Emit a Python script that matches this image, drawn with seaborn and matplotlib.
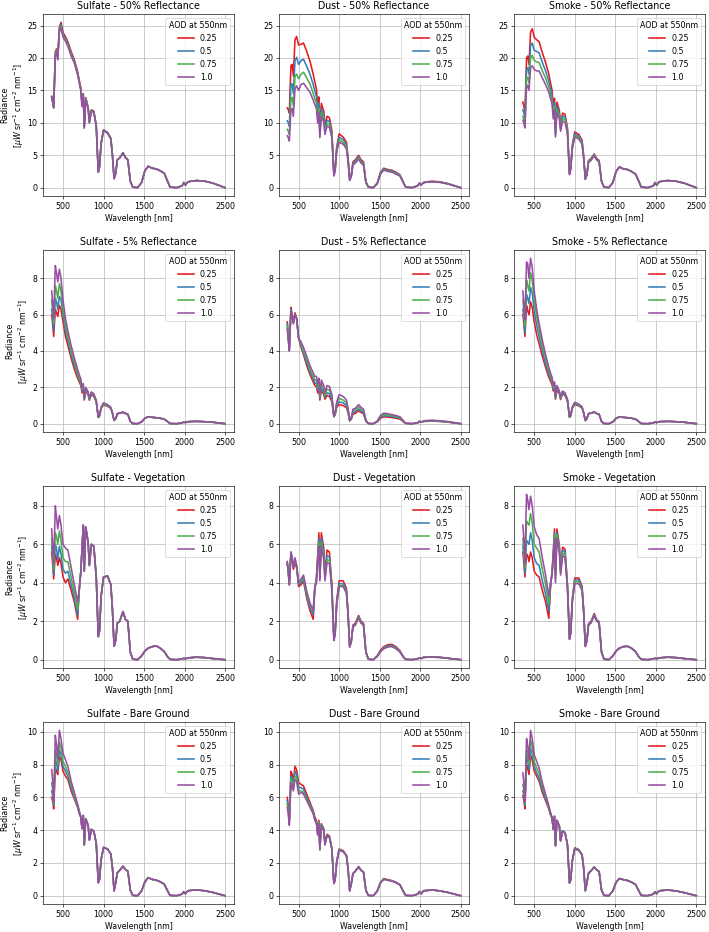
import numpy as np
import pandas as pd
import matplotlib
matplotlib.use("Agg")
import matplotlib.pyplot as plt
import seaborn as sns

# ---------------- data ----------------
wavelength = [360, 372, 385, 405, 420, 435, 455, 475, 500, 530,
              560, 600, 640, 680, 700, 720, 735, 750, 762, 780,
              810, 825, 850, 880, 910, 935, 950, 970, 1000, 1050,
              1090, 1110, 1130, 1150, 1170, 1200, 1240, 1270, 1300, 1330,
              1360, 1420, 1470, 1510, 1550, 1600, 1650, 1700, 1750, 1790,
              1820, 1900, 1970, 1990, 2010, 2040, 2080, 2150, 2250, 2350, 2500]

aod_levels = ["0.25", "0.5", "0.75", "1.0"]
aerosols = ["Sulfate", "Dust", "Smoke"]
surfaces = ["50% Reflectance", "5% Reflectance", "Vegetation", "Bare Ground"]
line_colors = ["#e41a1c", "#377eb8", "#4daf4a", "#984ea3"]

# ---- Sulfate - 50% Reflectance ----
sulfate_50r_025 = [14.1, 13.4, 12.5, 20.9, 21.4, 20.2, 24.7, 25.5, 23.9, 23.3,
                   22.5, 21.0, 19.7, 17.9, 16.6, 15.4, 12.8, 14.5, 9.4, 13.9,
                   12.4, 10.2, 12.0, 11.8, 9.6, 2.4, 3.2, 6.9, 8.9, 8.5,
                   7.6, 5.0, 1.4, 2.2, 4.3, 4.6, 5.4, 4.7, 4.3, 1.0,
                   0.1, 0.0, 0.8, 2.6, 3.3, 3.0, 2.9, 2.6, 2.2, 1.0,
                   0.1, 0.0, 0.3, 0.8, 0.4, 0.9, 1.0, 1.1, 1.0, 0.7, 0.0]
sulfate_50r_050 = [14.0, 13.3, 12.4, 20.7, 21.2, 20.0, 24.4, 25.2, 23.6, 23.0,
                   22.2, 20.7, 19.5, 17.7, 16.4, 15.2, 12.7, 14.4, 9.3, 13.8,
                   12.3, 10.1, 11.9, 11.7, 9.6, 2.4, 3.2, 6.9, 8.9, 8.5,
                   7.6, 5.0, 1.4, 2.2, 4.3, 4.6, 5.4, 4.7, 4.3, 1.0,
                   0.1, 0.0, 0.8, 2.6, 3.3, 3.0, 2.9, 2.6, 2.2, 1.0,
                   0.1, 0.0, 0.3, 0.8, 0.4, 0.9, 1.0, 1.1, 1.0, 0.7, 0.0]
sulfate_50r_075 = [14.0, 13.3, 12.3, 20.5, 21.1, 19.8, 24.2, 24.9, 23.4, 22.8,
                   22.0, 20.5, 19.3, 17.5, 16.3, 15.1, 12.6, 14.3, 9.2, 13.7,
                   12.2, 10.0, 11.8, 11.6, 9.5, 2.4, 3.2, 6.8, 8.8, 8.4,
                   7.5, 5.0, 1.4, 2.2, 4.3, 4.6, 5.3, 4.6, 4.3, 1.0,
                   0.1, 0.0, 0.8, 2.6, 3.3, 3.0, 2.9, 2.6, 2.2, 1.0,
                   0.1, 0.0, 0.3, 0.8, 0.4, 0.9, 1.0, 1.1, 1.0, 0.7, 0.0]
sulfate_50r_100 = [14.0, 13.2, 12.3, 20.3, 21.0, 19.7, 24.0, 24.7, 23.2, 22.6,
                   21.8, 20.3, 19.2, 17.4, 16.2, 15.0, 12.5, 14.2, 9.2, 13.6,
                   12.2, 10.0, 11.8, 11.6, 9.5, 2.4, 3.2, 6.8, 8.8, 8.4,
                   7.5, 5.0, 1.4, 2.2, 4.3, 4.6, 5.3, 4.6, 4.3, 1.0,
                   0.1, 0.0, 0.8, 2.6, 3.3, 3.0, 2.9, 2.6, 2.2, 1.0,
                   0.1, 0.0, 0.3, 0.8, 0.4, 0.9, 1.0, 1.1, 1.0, 0.7, 0.0]

# ---- Dust - 50% Reflectance ----
dust_50r_025 = [12.3, 12.0, 11.5, 18.8, 19.0, 17.2, 22.8, 23.3, 22.0, 22.1,
                22.3, 21.0, 19.5, 17.5, 16.3, 15.2, 12.5, 14.0, 9.0, 13.0,
                11.8, 9.5, 11.0, 10.8, 8.8, 2.2, 3.0, 6.3, 8.3, 7.8,
                7.0, 4.6, 1.3, 2.0, 4.0, 4.3, 5.0, 4.3, 4.0, 0.9,
                0.1, 0.0, 0.7, 2.4, 3.0, 2.8, 2.7, 2.4, 2.0, 0.9,
                0.1, 0.0, 0.3, 0.7, 0.4, 0.8, 0.9, 1.0, 0.9, 0.6, 0.0]
dust_50r_050 = [10.3, 10.0, 9.5, 16.0, 16.0, 14.5, 19.6, 20.1, 19.0, 19.6,
                19.8, 18.7, 17.5, 15.9, 14.9, 14.0, 11.5, 13.0, 8.5, 12.2,
                11.1, 9.0, 10.4, 10.2, 8.3, 2.0, 2.8, 6.0, 7.8, 7.4,
                6.6, 4.4, 1.2, 1.9, 3.8, 4.1, 4.8, 4.1, 3.8, 0.9,
                0.1, 0.0, 0.7, 2.3, 2.9, 2.7, 2.6, 2.3, 1.9, 0.9,
                0.1, 0.0, 0.3, 0.7, 0.4, 0.8, 0.9, 0.95, 0.85, 0.6, 0.0]
dust_50r_075 = [9.0, 8.7, 8.2, 13.8, 13.9, 12.6, 17.1, 17.5, 16.8, 17.5,
                17.8, 16.9, 16.0, 14.5, 13.7, 13.0, 10.7, 12.2, 8.0, 11.6,
                10.6, 8.6, 9.9, 9.7, 8.0, 1.9, 2.6, 5.8, 7.4, 7.0,
                6.3, 4.2, 1.2, 1.8, 3.6, 3.9, 4.6, 3.9, 3.7, 0.8,
                0.1, 0.0, 0.6, 2.2, 2.8, 2.6, 2.5, 2.2, 1.9, 0.9,
                0.1, 0.0, 0.3, 0.7, 0.4, 0.8, 0.85, 0.9, 0.85, 0.55, 0.0]
dust_50r_100 = [8.0, 7.7, 7.2, 12.0, 12.2, 11.0, 15.2, 15.7, 15.0, 15.9,
                16.1, 15.4, 14.7, 13.5, 12.8, 12.2, 10.0, 11.6, 7.7, 11.0,
                10.1, 8.2, 9.5, 9.3, 7.7, 1.8, 2.5, 5.6, 7.0, 6.7,
                6.0, 4.0, 1.1, 1.7, 3.5, 3.8, 4.4, 3.8, 3.5, 0.8,
                0.1, 0.0, 0.6, 2.1, 2.7, 2.5, 2.4, 2.1, 1.8, 0.8,
                0.1, 0.0, 0.3, 0.7, 0.4, 0.75, 0.85, 0.9, 0.8, 0.55, 0.0]

# ---- Smoke - 50% Reflectance ----
smoke_50r_025 = [13.2, 12.6, 11.5, 20.0, 20.3, 19.0, 24.0, 24.5, 23.2, 22.8,
                 22.5, 20.8, 19.3, 17.5, 16.2, 15.0, 12.3, 13.8, 8.8, 13.2,
                 11.9, 9.6, 11.5, 11.3, 9.2, 2.3, 3.1, 6.6, 8.6, 8.2,
                 7.3, 4.9, 1.4, 2.1, 4.2, 4.5, 5.2, 4.5, 4.2, 1.0,
                 0.1, 0.0, 0.8, 2.5, 3.2, 2.9, 2.8, 2.5, 2.1, 1.0,
                 0.1, 0.0, 0.3, 0.8, 0.4, 0.9, 1.0, 1.1, 1.0, 0.7, 0.0]
smoke_50r_050 = [12.0, 11.5, 10.5, 18.2, 18.5, 17.5, 21.9, 22.3, 21.2, 21.0,
                 20.8, 19.3, 18.0, 16.4, 15.3, 14.2, 11.6, 13.1, 8.4, 12.6,
                 11.4, 9.3, 11.1, 10.9, 8.9, 2.2, 3.0, 6.4, 8.3, 7.9,
                 7.1, 4.8, 1.3, 2.1, 4.1, 4.4, 5.1, 4.4, 4.1, 1.0,
                 0.1, 0.0, 0.8, 2.5, 3.2, 2.9, 2.8, 2.5, 2.1, 1.0,
                 0.1, 0.0, 0.3, 0.8, 0.4, 0.9, 1.0, 1.1, 1.0, 0.7, 0.0]
smoke_50r_075 = [11.0, 10.6, 9.8, 16.8, 17.0, 16.2, 20.0, 20.4, 19.6, 19.4,
                 19.3, 18.0, 16.9, 15.5, 14.5, 13.5, 11.1, 12.5, 8.1, 12.1,
                 11.0, 9.0, 10.7, 10.5, 8.6, 2.1, 2.9, 6.2, 8.0, 7.7,
                 6.9, 4.6, 1.3, 2.0, 4.0, 4.3, 5.0, 4.3, 4.0, 1.0,
                 0.1, 0.0, 0.8, 2.5, 3.2, 2.9, 2.8, 2.5, 2.1, 1.0,
                 0.1, 0.0, 0.3, 0.8, 0.4, 0.9, 1.0, 1.1, 1.0, 0.7, 0.0]
smoke_50r_100 = [10.4, 10.0, 9.2, 15.4, 15.8, 15.0, 18.5, 18.8, 18.2, 18.0,
                 18.0, 16.9, 15.9, 14.7, 13.8, 12.9, 10.6, 12.0, 7.8, 11.6,
                 10.6, 8.7, 10.3, 10.1, 8.3, 2.0, 2.8, 6.0, 7.8, 7.5,
                 6.7, 4.5, 1.3, 2.0, 3.9, 4.2, 4.9, 4.3, 4.0, 1.0,
                 0.1, 0.0, 0.8, 2.5, 3.2, 2.9, 2.8, 2.5, 2.1, 1.0,
                 0.1, 0.0, 0.3, 0.8, 0.4, 0.9, 1.0, 1.1, 1.0, 0.7, 0.0]

# ---- Sulfate - 5% Reflectance ----
sulfate_5r_025 = [6.0, 5.5, 4.8, 6.3, 6.1, 5.9, 6.5, 6.3, 5.6, 4.8,
                  4.3, 3.6, 3.0, 2.5, 2.3, 2.1, 1.7, 1.9, 1.3, 1.8,
                  1.6, 1.3, 1.6, 1.5, 1.2, 0.34, 0.41, 0.83, 1.04, 0.96,
                  0.84, 0.56, 0.18, 0.28, 0.55, 0.58, 0.62, 0.56, 0.52, 0.13,
                  0.01, 0.0, 0.1, 0.3, 0.38, 0.35, 0.33, 0.3, 0.25, 0.12,
                  0.01, 0.0, 0.04, 0.1, 0.06, 0.11, 0.12, 0.13, 0.11, 0.08, 0.0]
sulfate_5r_050 = [6.3, 5.8, 5.1, 6.9, 6.7, 6.3, 7.0, 6.8, 6.0, 5.1,
                  4.6, 3.8, 3.2, 2.7, 2.4, 2.2, 1.8, 2.0, 1.35, 1.85,
                  1.65, 1.32, 1.65, 1.55, 1.22, 0.35, 0.42, 0.85, 1.07, 0.99,
                  0.86, 0.57, 0.18, 0.28, 0.55, 0.58, 0.63, 0.56, 0.52, 0.13,
                  0.01, 0.0, 0.1, 0.3, 0.38, 0.35, 0.33, 0.3, 0.25, 0.12,
                  0.01, 0.0, 0.04, 0.1, 0.06, 0.11, 0.12, 0.13, 0.11, 0.08, 0.0]
sulfate_5r_075 = [6.8, 6.2, 5.5, 7.6, 7.3, 6.9, 7.7, 7.3, 6.3, 5.4,
                  4.8, 4.0, 3.4, 2.8, 2.5, 2.3, 1.9, 2.1, 1.4, 1.9,
                  1.7, 1.35, 1.7, 1.6, 1.25, 0.36, 0.43, 0.87, 1.1, 1.01,
                  0.88, 0.58, 0.18, 0.28, 0.55, 0.58, 0.64, 0.56, 0.52, 0.13,
                  0.01, 0.0, 0.1, 0.3, 0.38, 0.35, 0.33, 0.3, 0.25, 0.12,
                  0.01, 0.0, 0.04, 0.1, 0.06, 0.11, 0.12, 0.13, 0.11, 0.08, 0.0]
sulfate_5r_100 = [7.3, 6.6, 5.8, 8.7, 8.3, 7.8, 8.5, 8.0, 6.8, 5.8,
                  5.1, 4.3, 3.6, 3.0, 2.7, 2.45, 2.0, 2.2, 1.45, 2.0,
                  1.75, 1.4, 1.75, 1.65, 1.3, 0.38, 0.45, 0.9, 1.15, 1.05,
                  0.9, 0.6, 0.18, 0.28, 0.55, 0.58, 0.65, 0.56, 0.52, 0.13,
                  0.01, 0.0, 0.1, 0.3, 0.38, 0.35, 0.33, 0.3, 0.25, 0.12,
                  0.01, 0.0, 0.04, 0.1, 0.06, 0.11, 0.12, 0.13, 0.11, 0.08, 0.0]

# ---- Dust - 5% Reflectance ----
dust_5r_025 = [5.6, 4.9, 4.1, 6.4, 6.0, 5.6, 6.1, 5.8, 4.7, 4.2,
               3.8, 3.2, 2.7, 2.3, 2.1, 2.05, 1.7, 1.95, 1.3, 1.85,
               1.6, 1.35, 1.55, 1.5, 1.2, 0.37, 0.47, 0.9, 1.05, 1.0,
               0.88, 0.6, 0.15, 0.25, 0.52, 0.57, 0.7, 0.62, 0.55, 0.14,
               0.01, 0.0, 0.1, 0.3, 0.38, 0.36, 0.34, 0.3, 0.25, 0.12,
               0.02, 0.0, 0.05, 0.11, 0.08, 0.12, 0.13, 0.14, 0.12, 0.08, 0.0]
dust_5r_050 = [5.5, 4.8, 4.1, 6.3, 6.0, 5.6, 6.0, 5.8, 4.7, 4.3,
               3.9, 3.35, 2.85, 2.45, 2.25, 2.2, 1.85, 2.1, 1.4, 2.0,
               1.75, 1.45, 1.7, 1.65, 1.3, 0.4, 0.5, 1.0, 1.2, 1.15,
               1.0, 0.67, 0.16, 0.28, 0.6, 0.65, 0.8, 0.7, 0.62, 0.16,
               0.01, 0.0, 0.11, 0.35, 0.44, 0.42, 0.39, 0.35, 0.29, 0.14,
               0.02, 0.0, 0.05, 0.12, 0.08, 0.13, 0.14, 0.15, 0.13, 0.09, 0.0]
dust_5r_075 = [5.4, 4.7, 4.0, 6.2, 5.9, 5.5, 6.0, 5.8, 4.7, 4.4,
               4.0, 3.5, 3.0, 2.6, 2.4, 2.4, 2.0, 2.3, 1.5, 2.2,
               1.9, 1.55, 1.9, 1.85, 1.45, 0.42, 0.55, 1.1, 1.4, 1.3,
               1.15, 0.75, 0.18, 0.31, 0.7, 0.75, 0.92, 0.8, 0.7, 0.18,
               0.01, 0.0, 0.13, 0.4, 0.5, 0.48, 0.44, 0.4, 0.33, 0.16,
               0.02, 0.0, 0.05, 0.13, 0.08, 0.14, 0.16, 0.17, 0.14, 0.1, 0.0]
dust_5r_100 = [5.2, 4.6, 4.0, 6.2, 5.9, 5.5, 6.0, 5.8, 4.7, 4.5,
               4.2, 3.7, 3.2, 2.8, 2.6, 2.6, 2.2, 2.5, 1.6, 2.4,
               2.1, 1.7, 2.1, 2.05, 1.6, 0.45, 0.6, 1.2, 1.6, 1.5,
               1.3, 0.85, 0.2, 0.35, 0.8, 0.85, 1.05, 0.9, 0.8, 0.2,
               0.01, 0.0, 0.15, 0.45, 0.58, 0.55, 0.5, 0.45, 0.38, 0.18,
               0.02, 0.0, 0.05, 0.15, 0.08, 0.16, 0.18, 0.19, 0.16, 0.11, 0.0]

# ---- Smoke - 5% Reflectance ----
smoke_5r_025 = [6.0, 5.5, 4.8, 6.5, 6.2, 6.0, 6.7, 6.4, 5.6, 4.9,
                4.4, 3.7, 3.1, 2.55, 2.35, 2.15, 1.8, 2.0, 1.35, 1.85,
                1.65, 1.33, 1.65, 1.55, 1.24, 0.35, 0.43, 0.86, 1.06, 0.98,
                0.86, 0.58, 0.18, 0.28, 0.55, 0.58, 0.63, 0.56, 0.52, 0.13,
                0.01, 0.0, 0.1, 0.3, 0.37, 0.35, 0.33, 0.3, 0.25, 0.12,
                0.01, 0.0, 0.04, 0.1, 0.06, 0.11, 0.12, 0.13, 0.11, 0.08, 0.0]
smoke_5r_050 = [6.3, 5.8, 5.0, 7.1, 6.9, 6.6, 7.5, 7.2, 6.2, 5.4,
                4.8, 4.0, 3.3, 2.75, 2.5, 2.3, 1.9, 2.1, 1.4, 1.95,
                1.7, 1.37, 1.7, 1.6, 1.27, 0.36, 0.44, 0.88, 1.1, 1.01,
                0.88, 0.59, 0.18, 0.28, 0.55, 0.58, 0.64, 0.56, 0.52, 0.13,
                0.01, 0.0, 0.1, 0.3, 0.37, 0.35, 0.33, 0.3, 0.25, 0.12,
                0.01, 0.0, 0.04, 0.1, 0.06, 0.11, 0.12, 0.13, 0.11, 0.08, 0.0]
smoke_5r_075 = [6.8, 6.2, 5.4, 7.9, 7.6, 7.3, 8.3, 7.9, 6.8, 5.9,
                5.2, 4.3, 3.6, 2.95, 2.65, 2.45, 2.0, 2.2, 1.45, 2.0,
                1.75, 1.4, 1.75, 1.65, 1.3, 0.37, 0.45, 0.9, 1.14, 1.04,
                0.9, 0.6, 0.18, 0.28, 0.55, 0.58, 0.65, 0.56, 0.52, 0.13,
                0.01, 0.0, 0.1, 0.3, 0.37, 0.35, 0.33, 0.3, 0.25, 0.12,
                0.01, 0.0, 0.04, 0.1, 0.06, 0.11, 0.12, 0.13, 0.11, 0.08, 0.0]
smoke_5r_100 = [7.3, 6.6, 5.7, 8.9, 8.8, 8.0, 9.1, 8.6, 7.3, 6.3,
                5.5, 4.6, 3.8, 3.1, 2.8, 2.55, 2.1, 2.3, 1.5, 2.1,
                1.8, 1.45, 1.8, 1.7, 1.35, 0.38, 0.46, 0.92, 1.18, 1.08,
                0.93, 0.62, 0.18, 0.28, 0.55, 0.58, 0.65, 0.56, 0.52, 0.13,
                0.01, 0.0, 0.1, 0.3, 0.37, 0.35, 0.33, 0.3, 0.25, 0.12,
                0.01, 0.0, 0.04, 0.1, 0.06, 0.11, 0.12, 0.13, 0.11, 0.08, 0.0]

# ---- Sulfate - Vegetation ----
sulfate_veg_025 = [5.6, 5.0, 4.2, 5.5, 5.3, 4.9, 5.3, 5.0, 4.3, 4.0,
                   4.2, 3.6, 3.0, 2.1, 3.6, 4.6, 5.8, 7.0, 4.6, 6.9,
                   6.1, 4.9, 6.0, 5.9, 4.3, 1.2, 1.5, 3.3, 4.3, 4.35,
                   3.9, 2.6, 0.7, 1.0, 1.9, 2.0, 2.5, 2.1, 2.0, 0.4,
                   0.03, 0.0, 0.2, 0.45, 0.6, 0.68, 0.72, 0.6, 0.42, 0.15,
                   0.02, 0.0, 0.04, 0.08, 0.05, 0.09, 0.11, 0.13, 0.11, 0.06, 0.0]
sulfate_veg_050 = [5.9, 5.3, 4.4, 6.0, 5.8, 5.2, 5.9, 5.5, 4.7, 4.5,
                   4.6, 3.9, 3.2, 2.3, 3.6, 4.6, 5.8, 7.0, 4.6, 6.9,
                   6.1, 4.9, 6.0, 5.9, 4.3, 1.2, 1.5, 3.3, 4.3, 4.35,
                   3.9, 2.6, 0.7, 1.0, 1.9, 2.0, 2.5, 2.1, 2.0, 0.4,
                   0.03, 0.0, 0.2, 0.45, 0.6, 0.68, 0.72, 0.6, 0.42, 0.15,
                   0.02, 0.0, 0.04, 0.08, 0.05, 0.09, 0.11, 0.13, 0.11, 0.06, 0.0]
sulfate_veg_075 = [6.3, 5.6, 4.7, 6.6, 6.4, 6.0, 6.7, 6.2, 5.3, 5.1,
                   5.1, 4.3, 3.5, 2.6, 3.6, 4.6, 5.8, 7.0, 4.6, 6.9,
                   6.1, 4.9, 6.0, 5.9, 4.3, 1.2, 1.5, 3.3, 4.3, 4.35,
                   3.9, 2.6, 0.7, 1.0, 1.9, 2.0, 2.5, 2.1, 2.0, 0.4,
                   0.03, 0.0, 0.2, 0.45, 0.6, 0.68, 0.72, 0.6, 0.42, 0.15,
                   0.02, 0.0, 0.04, 0.08, 0.05, 0.09, 0.11, 0.13, 0.11, 0.06, 0.0]
sulfate_veg_100 = [6.8, 6.0, 5.0, 8.0, 7.4, 6.8, 7.5, 7.0, 6.0, 5.8,
                   5.7, 4.8, 3.9, 3.0, 3.7, 4.6, 5.8, 7.0, 4.6, 6.9,
                   6.1, 4.9, 6.0, 5.9, 4.3, 1.2, 1.5, 3.3, 4.3, 4.35,
                   3.9, 2.6, 0.7, 1.0, 1.9, 2.0, 2.5, 2.1, 2.0, 0.4,
                   0.03, 0.0, 0.2, 0.45, 0.6, 0.68, 0.72, 0.6, 0.42, 0.15,
                   0.02, 0.0, 0.04, 0.08, 0.05, 0.09, 0.11, 0.13, 0.11, 0.06, 0.0]

# ---- Dust - Vegetation ----
dust_veg_025 = [5.0, 4.6, 3.9, 5.4, 5.2, 4.7, 5.0, 4.8, 3.8, 3.9,
                4.1, 3.2, 2.55, 2.1, 3.7, 4.3, 5.4, 6.6, 4.4, 6.6,
                5.8, 4.4, 5.7, 5.6, 3.9, 1.1, 1.4, 3.1, 4.1, 4.1,
                3.7, 2.5, 0.7, 1.0, 1.8, 1.9, 2.3, 2.0, 1.9, 0.4,
                0.03, 0.0, 0.2, 0.5, 0.68, 0.78, 0.8, 0.68, 0.47, 0.17,
                0.02, 0.0, 0.05, 0.1, 0.06, 0.12, 0.13, 0.15, 0.12, 0.07, 0.0]
dust_veg_050 = [5.0, 4.6, 3.9, 5.5, 5.3, 4.8, 5.1, 4.85, 3.9, 4.0,
                4.2, 3.3, 2.7, 2.35, 3.7, 4.2, 5.3, 6.3, 4.3, 6.3,
                5.6, 4.3, 5.4, 5.35, 3.8, 1.05, 1.35, 3.0, 3.95, 3.95,
                3.6, 2.4, 0.68, 0.97, 1.75, 1.85, 2.25, 1.95, 1.85, 0.4,
                0.03, 0.0, 0.18, 0.46, 0.63, 0.73, 0.75, 0.64, 0.44, 0.16,
                0.02, 0.0, 0.05, 0.1, 0.06, 0.12, 0.13, 0.14, 0.12, 0.07, 0.0]
dust_veg_075 = [5.1, 4.6, 3.9, 5.6, 5.3, 4.8, 5.2, 4.9, 4.0, 4.1,
                4.3, 3.45, 2.85, 2.6, 3.8, 4.1, 5.2, 6.1, 4.2, 6.1,
                5.4, 4.2, 5.2, 5.15, 3.7, 1.0, 1.3, 2.9, 3.85, 3.85,
                3.5, 2.35, 0.66, 0.95, 1.72, 1.82, 2.2, 1.92, 1.82, 0.4,
                0.03, 0.0, 0.17, 0.43, 0.6, 0.69, 0.71, 0.6, 0.42, 0.15,
                0.02, 0.0, 0.05, 0.1, 0.06, 0.12, 0.13, 0.13, 0.12, 0.07, 0.0]
dust_veg_100 = [5.1, 4.6, 3.9, 5.6, 5.3, 4.8, 5.3, 4.9, 4.0, 4.2,
                4.4, 3.55, 2.95, 2.55, 3.8, 4.0, 5.1, 5.9, 4.1, 5.9,
                5.2, 4.1, 5.05, 5.0, 3.6, 1.0, 1.28, 2.85, 3.8, 3.8,
                3.45, 2.3, 0.65, 0.93, 1.7, 1.8, 2.17, 1.9, 1.8, 0.4,
                0.03, 0.0, 0.16, 0.41, 0.57, 0.66, 0.68, 0.57, 0.4, 0.14,
                0.02, 0.0, 0.05, 0.1, 0.06, 0.12, 0.13, 0.13, 0.12, 0.07, 0.0]

# ---- Smoke - Vegetation ----
smoke_veg_025 = [5.6, 5.0, 4.3, 5.5, 5.4, 5.1, 5.6, 5.3, 4.6, 4.4,
                 4.3, 3.6, 3.0, 2.15, 3.7, 4.6, 5.6, 6.8, 4.5, 6.8,
                 5.95, 4.7, 5.85, 5.75, 3.9, 1.12, 1.43, 3.15, 4.25, 4.25,
                 3.82, 2.6, 0.72, 1.02, 1.88, 1.99, 2.4, 2.08, 1.98, 0.4,
                 0.03, 0.0, 0.2, 0.45, 0.6, 0.68, 0.7, 0.6, 0.42, 0.15,
                 0.02, 0.0, 0.04, 0.08, 0.05, 0.09, 0.11, 0.13, 0.11, 0.06, 0.0]
smoke_veg_050 = [5.9, 5.3, 4.5, 6.2, 6.1, 6.0, 6.6, 6.2, 5.3, 5.0,
                 4.9, 4.1, 3.4, 2.5, 3.8, 4.55, 5.5, 6.6, 4.35, 6.6,
                 5.85, 4.6, 5.7, 5.6, 3.85, 1.1, 1.4, 3.1, 4.15, 4.15,
                 3.75, 2.55, 0.71, 1.0, 1.85, 1.96, 2.36, 2.06, 1.96, 0.4,
                 0.03, 0.0, 0.2, 0.45, 0.6, 0.68, 0.7, 0.6, 0.42, 0.15,
                 0.02, 0.0, 0.04, 0.08, 0.05, 0.09, 0.11, 0.13, 0.11, 0.06, 0.0]
smoke_veg_075 = [6.3, 5.6, 4.8, 7.2, 7.1, 7.0, 7.6, 7.1, 6.0, 5.8,
                 5.6, 4.7, 3.9, 2.9, 3.9, 4.5, 5.4, 6.5, 4.2, 6.5,
                 5.75, 4.5, 5.55, 5.45, 3.8, 1.07, 1.38, 3.05, 4.05, 4.05,
                 3.67, 2.5, 0.7, 0.99, 1.82, 1.93, 2.33, 2.03, 1.93, 0.4,
                 0.03, 0.0, 0.2, 0.45, 0.6, 0.68, 0.7, 0.6, 0.42, 0.15,
                 0.02, 0.0, 0.04, 0.08, 0.05, 0.09, 0.11, 0.13, 0.11, 0.06, 0.0]
smoke_veg_100 = [7.0, 6.2, 5.0, 8.6, 8.3, 7.8, 8.5, 8.0, 6.9, 6.5,
                 6.3, 5.3, 4.4, 3.3, 4.0, 4.4, 5.3, 6.3, 4.0, 6.3,
                 5.6, 4.4, 5.4, 5.3, 3.7, 1.05, 1.35, 3.0, 3.95, 3.95,
                 3.6, 2.45, 0.68, 0.97, 1.8, 1.9, 2.3, 2.0, 1.9, 0.4,
                 0.03, 0.0, 0.2, 0.45, 0.6, 0.68, 0.7, 0.6, 0.42, 0.15,
                 0.02, 0.0, 0.04, 0.08, 0.05, 0.09, 0.11, 0.13, 0.11, 0.06, 0.0]

# ---- Sulfate - Bare Ground ----
sulfate_bare_025 = [6.0, 5.8, 5.3, 7.8, 7.6, 7.4, 8.5, 8.3, 7.6, 7.3,
                    7.1, 6.4, 5.9, 5.4, 5.0, 4.8, 4.1, 4.9, 3.1, 4.7,
                    4.3, 3.4, 4.05, 3.95, 3.2, 0.8, 1.0, 2.2, 2.95, 2.85,
                    2.55, 1.7, 0.3, 0.8, 1.4, 1.55, 1.8, 1.6, 1.5, 0.35,
                    0.02, 0.0, 0.3, 0.85, 1.1, 1.0, 0.95, 0.85, 0.7, 0.3,
                    0.02, 0.0, 0.1, 0.25, 0.12, 0.3, 0.33, 0.36, 0.3, 0.2, 0.0]
sulfate_bare_050 = [6.4, 6.1, 5.5, 8.3, 8.1, 7.6, 8.9, 8.6, 7.9, 7.6,
                    7.3, 6.6, 6.0, 5.45, 5.1, 4.8, 4.1, 4.9, 3.1, 4.7,
                    4.3, 3.4, 4.05, 3.95, 3.2, 0.8, 1.0, 2.2, 2.95, 2.85,
                    2.55, 1.7, 0.3, 0.8, 1.4, 1.55, 1.8, 1.6, 1.5, 0.35,
                    0.02, 0.0, 0.3, 0.85, 1.1, 1.0, 0.95, 0.85, 0.7, 0.3,
                    0.02, 0.0, 0.1, 0.25, 0.12, 0.3, 0.33, 0.36, 0.3, 0.2, 0.0]
sulfate_bare_075 = [6.9, 6.5, 5.6, 8.9, 8.6, 8.0, 9.4, 9.0, 8.2, 7.9,
                    7.5, 6.8, 6.1, 5.5, 5.1, 4.8, 4.1, 4.9, 3.1, 4.7,
                    4.3, 3.4, 4.05, 3.95, 3.2, 0.8, 1.0, 2.2, 2.95, 2.85,
                    2.55, 1.7, 0.3, 0.8, 1.4, 1.55, 1.8, 1.6, 1.5, 0.35,
                    0.02, 0.0, 0.3, 0.85, 1.1, 1.0, 0.95, 0.85, 0.7, 0.3,
                    0.02, 0.0, 0.1, 0.25, 0.12, 0.3, 0.33, 0.36, 0.3, 0.2, 0.0]
sulfate_bare_100 = [7.7, 7.0, 5.7, 9.8, 9.2, 8.3, 10.1, 9.6, 8.7, 8.3,
                    7.9, 7.0, 6.3, 5.6, 5.2, 4.8, 4.1, 4.9, 3.1, 4.7,
                    4.3, 3.4, 4.05, 3.95, 3.2, 0.8, 1.0, 2.2, 2.95, 2.85,
                    2.55, 1.7, 0.3, 0.8, 1.4, 1.55, 1.8, 1.6, 1.5, 0.35,
                    0.02, 0.0, 0.3, 0.85, 1.1, 1.0, 0.95, 0.85, 0.7, 0.3,
                    0.02, 0.0, 0.1, 0.25, 0.12, 0.3, 0.33, 0.36, 0.3, 0.2, 0.0]

# ---- Dust - Bare Ground ----
dust_bare_025 = [6.0, 5.5, 4.6, 7.6, 7.4, 7.0, 7.9, 7.7, 6.9, 6.8,
                 6.7, 6.2, 5.7, 5.2, 4.8, 4.6, 3.9, 4.6, 2.9, 4.4,
                 4.1, 3.2, 3.75, 3.65, 2.9, 0.75, 0.95, 2.1, 2.85, 2.75,
                 2.45, 1.65, 0.3, 0.75, 1.35, 1.5, 1.78, 1.55, 1.45, 0.33,
                 0.02, 0.0, 0.28, 0.8, 1.05, 0.98, 0.92, 0.82, 0.68, 0.28,
                 0.02, 0.0, 0.1, 0.25, 0.12, 0.3, 0.32, 0.35, 0.29, 0.19, 0.0]
dust_bare_050 = [5.8, 5.3, 4.5, 7.3, 7.1, 6.8, 7.6, 7.4, 6.6, 6.6,
                 6.5, 6.0, 5.6, 5.1, 4.7, 4.5, 3.8, 4.5, 2.85, 4.35,
                 4.05, 3.15, 3.7, 3.6, 2.87, 0.75, 0.95, 2.08, 2.82, 2.72,
                 2.45, 1.65, 0.3, 0.75, 1.35, 1.5, 1.77, 1.55, 1.45, 0.33,
                 0.02, 0.0, 0.28, 0.8, 1.03, 0.96, 0.91, 0.81, 0.67, 0.28,
                 0.02, 0.0, 0.1, 0.25, 0.12, 0.3, 0.32, 0.35, 0.29, 0.19, 0.0]
dust_bare_075 = [5.6, 5.2, 4.4, 7.1, 6.9, 6.6, 7.3, 7.2, 6.4, 6.4,
                 6.3, 5.9, 5.5, 5.05, 4.65, 4.45, 3.75, 4.45, 2.8, 4.3,
                 4.0, 3.12, 3.67, 3.57, 2.85, 0.75, 0.95, 2.06, 2.8, 2.7,
                 2.45, 1.65, 0.3, 0.75, 1.35, 1.5, 1.76, 1.55, 1.45, 0.33,
                 0.02, 0.0, 0.28, 0.8, 1.01, 0.95, 0.9, 0.8, 0.66, 0.28,
                 0.02, 0.0, 0.1, 0.25, 0.12, 0.3, 0.32, 0.35, 0.29, 0.19, 0.0]
dust_bare_100 = [5.4, 5.0, 4.3, 6.9, 6.7, 6.4, 7.1, 7.0, 6.2, 6.3,
                 6.2, 5.8, 5.4, 5.0, 4.6, 4.4, 3.7, 4.4, 2.8, 4.25,
                 3.95, 3.1, 3.65, 3.55, 2.83, 0.75, 0.95, 2.05, 2.78, 2.68,
                 2.45, 1.65, 0.3, 0.75, 1.35, 1.5, 1.75, 1.55, 1.45, 0.33,
                 0.02, 0.0, 0.28, 0.8, 1.0, 0.94, 0.9, 0.8, 0.66, 0.28,
                 0.02, 0.0, 0.1, 0.25, 0.12, 0.3, 0.32, 0.35, 0.29, 0.19, 0.0]

# ---- Smoke - Bare Ground ----
smoke_bare_025 = [6.1, 5.8, 5.3, 8.0, 7.8, 7.4, 8.6, 8.3, 7.6, 7.3,
                  7.0, 6.3, 5.8, 5.3, 4.95, 4.7, 4.05, 4.85, 3.05, 4.6,
                  4.25, 3.35, 3.95, 3.85, 3.1, 0.78, 0.98, 2.15, 2.92, 2.82,
                  2.5, 1.68, 0.3, 0.78, 1.38, 1.52, 1.75, 1.58, 1.48, 0.35,
                  0.02, 0.0, 0.3, 0.82, 1.05, 0.98, 0.93, 0.83, 0.68, 0.3,
                  0.02, 0.0, 0.1, 0.25, 0.12, 0.3, 0.32, 0.35, 0.29, 0.19, 0.0]
smoke_bare_050 = [6.4, 6.1, 5.5, 8.5, 8.3, 7.7, 9.0, 8.7, 7.9, 7.5,
                  7.2, 6.5, 5.9, 5.35, 5.0, 4.72, 4.05, 4.85, 3.05, 4.6,
                  4.25, 3.35, 3.95, 3.85, 3.1, 0.78, 0.98, 2.15, 2.9, 2.8,
                  2.5, 1.68, 0.3, 0.78, 1.38, 1.52, 1.75, 1.58, 1.48, 0.35,
                  0.02, 0.0, 0.3, 0.82, 1.05, 0.98, 0.93, 0.83, 0.68, 0.3,
                  0.02, 0.0, 0.1, 0.25, 0.12, 0.3, 0.32, 0.35, 0.29, 0.19, 0.0]
smoke_bare_075 = [6.8, 6.4, 5.6, 8.9, 8.7, 8.0, 9.5, 9.1, 8.2, 7.8,
                  7.5, 6.7, 6.05, 5.4, 5.05, 4.75, 4.05, 4.85, 3.05, 4.6,
                  4.25, 3.35, 3.95, 3.85, 3.1, 0.78, 0.98, 2.15, 2.88, 2.78,
                  2.5, 1.68, 0.3, 0.78, 1.38, 1.52, 1.75, 1.58, 1.48, 0.35,
                  0.02, 0.0, 0.3, 0.82, 1.05, 0.98, 0.93, 0.83, 0.68, 0.3,
                  0.02, 0.0, 0.1, 0.25, 0.12, 0.3, 0.32, 0.35, 0.29, 0.19, 0.0]
smoke_bare_100 = [7.5, 6.9, 5.7, 9.6, 9.2, 8.3, 10.1, 9.6, 8.6, 8.2,
                  7.8, 6.9, 6.2, 5.5, 5.1, 4.8, 4.05, 4.85, 3.05, 4.6,
                  4.25, 3.35, 3.95, 3.85, 3.1, 0.78, 0.98, 2.15, 2.85, 2.75,
                  2.5, 1.68, 0.3, 0.78, 1.38, 1.52, 1.75, 1.58, 1.48, 0.35,
                  0.02, 0.0, 0.3, 0.82, 1.05, 0.98, 0.93, 0.83, 0.68, 0.3,
                  0.02, 0.0, 0.1, 0.25, 0.12, 0.3, 0.32, 0.35, 0.29, 0.19, 0.0]

panel_series = {
    ("Sulfate", "50% Reflectance"): [sulfate_50r_025, sulfate_50r_050, sulfate_50r_075, sulfate_50r_100],
    ("Dust", "50% Reflectance"): [dust_50r_025, dust_50r_050, dust_50r_075, dust_50r_100],
    ("Smoke", "50% Reflectance"): [smoke_50r_025, smoke_50r_050, smoke_50r_075, smoke_50r_100],
    ("Sulfate", "5% Reflectance"): [sulfate_5r_025, sulfate_5r_050, sulfate_5r_075, sulfate_5r_100],
    ("Dust", "5% Reflectance"): [dust_5r_025, dust_5r_050, dust_5r_075, dust_5r_100],
    ("Smoke", "5% Reflectance"): [smoke_5r_025, smoke_5r_050, smoke_5r_075, smoke_5r_100],
    ("Sulfate", "Vegetation"): [sulfate_veg_025, sulfate_veg_050, sulfate_veg_075, sulfate_veg_100],
    ("Dust", "Vegetation"): [dust_veg_025, dust_veg_050, dust_veg_075, dust_veg_100],
    ("Smoke", "Vegetation"): [smoke_veg_025, smoke_veg_050, smoke_veg_075, smoke_veg_100],
    ("Sulfate", "Bare Ground"): [sulfate_bare_025, sulfate_bare_050, sulfate_bare_075, sulfate_bare_100],
    ("Dust", "Bare Ground"): [dust_bare_025, dust_bare_050, dust_bare_075, dust_bare_100],
    ("Smoke", "Bare Ground"): [smoke_bare_025, smoke_bare_050, smoke_bare_075, smoke_bare_100],
}

# ---------------- plot ----------------
DPI = 57
fig, axes = plt.subplots(4, 3, figsize=(709 / DPI, 932 / DPI), dpi=DPI)
fig.subplots_adjust(left=43 / 709, right=705 / 709, top=1 - 14 / 932,
                    bottom=1 - 904 / 932, wspace=0.235, hspace=0.297)
for i in range(4):
    for j in range(1, 3):
        axes[i, j].sharey(axes[i, 0])

ylabel = "Radiance\n[$\\mu W$ sr$^{-1}$ cm$^{-2}$ nm$^{-1}$]"

for i, surf in enumerate(surfaces):
    for j, aer in enumerate(aerosols):
        ax = axes[i, j]
        series = panel_series[(aer, surf)]
        frames = []
        for lvl, vals in zip(aod_levels, series):
            frames.append(pd.DataFrame({"Wavelength": wavelength,
                                        "Radiance": vals,
                                        "AOD": lvl}))
        df = pd.concat(frames, ignore_index=True)
        sns.lineplot(data=df, x="Wavelength", y="Radiance", hue="AOD",
                     hue_order=aod_levels, palette=line_colors,
                     linewidth=2, estimator=None, sort=False, ax=ax)
        ax.set_title(f"{aer} - {surf}", fontsize=12)
        ax.set_xlabel("Wavelength [nm]", fontsize=10)
        if j == 0:
            ax.set_ylabel(ylabel, fontsize=10, labelpad=2)
        else:
            ax.set_ylabel("")
        ax.grid(True, color="#b0b0b0", linewidth=0.8)
        ax.legend(title="AOD at 550nm", loc="upper right", fontsize=10,
                  title_fontsize=10)
        ax.tick_params(labelleft=True, labelbottom=True, labelsize=10)

fig.savefig("out.png", dpi=DPI)
